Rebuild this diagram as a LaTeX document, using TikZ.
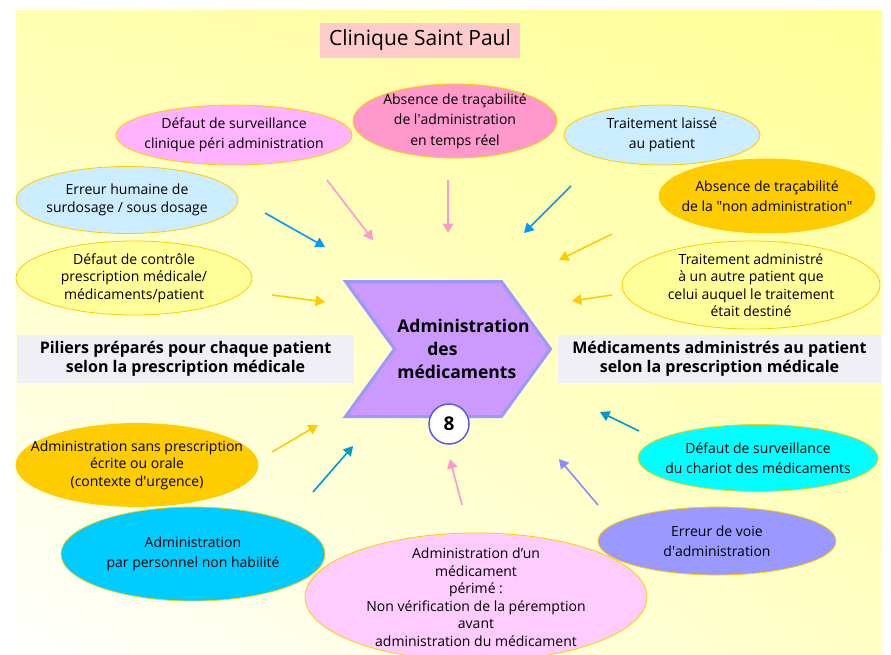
\documentclass[tikz,border=0pt]{standalone}
\usepackage{fontspec}
\setmainfont{Open Sans}
\usetikzlibrary{arrows,shapes.geometric,shapes.symbols,shadings}
\definecolor{bgA}{HTML}{FFFFB0}
\definecolor{bgB}{HTML}{FFFF99}
\definecolor{bgC}{HTML}{FFFFC4}
\definecolor{titlepink}{HTML}{FFCCCC}
\definecolor{pinkA}{HTML}{FFB3FF}
\definecolor{pinkB}{HTML}{FF99CC}
\definecolor{pinkC}{HTML}{FFCCFF}
\definecolor{bluepale}{HTML}{CCECFF}
\definecolor{goldfill}{HTML}{FFCC00}
\definecolor{yellowpale}{HTML}{FFFF99}
\definecolor{cyanA}{HTML}{00CCFF}
\definecolor{cyanB}{HTML}{00FFFF}
\definecolor{periw}{HTML}{9999FF}
\definecolor{greyback}{HTML}{EFEFF5}
\definecolor{chevfill}{HTML}{CC99FF}
\definecolor{chevline}{HTML}{9999FF}
\definecolor{circline}{HTML}{5B5BE8}
\definecolor{arrpink}{HTML}{FF99CC}
\definecolor{arrblue}{HTML}{0099FF}
\definecolor{arrgold}{HTML}{FFCC00}
\definecolor{arrteal}{HTML}{0099CC}
\definecolor{arrperi}{HTML}{8C8CFF}

\begin{document}
\begin{tikzpicture}[x = 1pt, y = -1pt, cause/.style = {ellipse, draw = goldfill, line width = 0.8pt, inner sep = 0pt}, txt/.style = {align = center, font = \fontsize{14}{17.5}\selectfont}, txtw/.style = {align = center, font = \fontsize{14}{20.5}\selectfont}, greybox/.style = {rectangle, fill = greyback, align = center, font = \bfseries\fontsize{16}{19}\selectfont}]

	\useasboundingbox (0, 0) rectangle (891, 655);
	\shade[upper left = bgA, upper right = bgB, lower left = white, lower right = bgC] (16, 11) rectangle (882, 655);

	\node (titre) at (420, 40.5) [fill = titlepink, minimum width = 200, minimum height = 35, font = \fontsize{21}{21}\selectfont] {Clinique Saint Paul};

	\node (surv)    at (234, 135) [cause, fill = pinkA, minimum width = 236, minimum height = 60, label = {[txtw]center:{Défaut de surveillance\\clinique péri administration}}] {};
	\node (tracR)   at (455, 121) [cause, fill = pinkB, minimum width = 204, minimum height = 74, label = {[txtw]center:{Absence de traçabilité\\de l\textquotesingle administration\\en temps réel}}] {};
	\node (laisse)  at (662, 135) [cause, fill = bluepale, minimum width = 196, minimum height = 60, label = {[txtw]center:{Traitement laissé\\au patient}}] {};
	\node (dosage)  at (127, 200) [cause, fill = bluepale, minimum width = 222, minimum height = 67, label = {[txt]center:{Erreur humaine de\\surdosage / sous dosage}}] {};
	\node (tracN)   at (767, 196) [cause, fill = goldfill, minimum width = 216, minimum height = 74, label = {[txtw]center:{Absence de traçabilité\\de la \textquotedbl non administration\textquotedbl}}] {};
	\node (ctrl)    at (134, 278) [cause, fill = yellowpale, minimum width = 236, minimum height = 74, label = {[txt]center:{Défaut de contrôle\\prescription médicale/\\médicaments/patient}}] {};
	\node (autre)   at (751, 285) [cause, fill = yellowpale, minimum width = 258, minimum height = 88, label = {[txt]center:{Traitement administré\\à un autre patient que\\celui auquel le traitement\\était destiné}}] {};
	\node (urgence) at (137, 465) [cause, fill = goldfill, minimum width = 242, minimum height = 83, label = {[txt]center:{Administration sans prescription\\écrite ou orale\\(contexte d\textquotesingle urgence)}}] {};
	\node (habil)   at (193, 554) [cause, fill = cyanA, minimum width = 264, minimum height = 94, label = {[txtw]center:{Administration\\par personnel non habilité}}] {};
	\node (perime)  at (476, 597) [cause, fill = pinkC, minimum width = 342, minimum height = 128, label = {[txt]center:{Administration d’un\\médicament\\périmé :\\Non vérification de la péremption\\avant\\administration du médicament}}] {};
	\node (chariot) at (758, 458) [cause, fill = cyanB, minimum width = 240, minimum height = 67, label = {[txtw]center:{Défaut de surveillance\\du chariot des médicaments}}] {};
	\node (voie)    at (717, 541) [cause, fill = periw, minimum width = 238, minimum height = 68, label = {[txtw]center:{Erreur de voie\\d\textquotesingle administration}}] {};

	\node (avant) at (185.5, 359) [greybox, minimum width = 337, minimum height = 48] {Piliers préparés pour chaque patient\\selon la prescription médicale};
	\node (apres) at (719.5, 359) [greybox, minimum width = 323, minimum height = 48] {Médicaments administrés au patient\\selon la prescription médicale};

	\node (admin) at (448, 349) [signal, signal from = west, signal to = east, signal pointer angle = 108, fill = chevfill, draw = chevline, line width = 3pt, minimum width = 205, minimum height = 135, inner sep = 0pt, label = {[align = left, xshift = 15.5pt, font = \bfseries\fontsize{17.5}{23}\selectfont]center:{Administration\\\hspace*{30pt}des\\médicaments}}] {};
	\node (huit) at (449, 424) [circle, draw = circline, line width = 1.5pt, fill = white, minimum size = 40, inner sep = 0pt, font = \bfseries\fontsize{19}{19}\selectfont] {8};

	\coordinate (survA)    at (327, 180); \coordinate (survB)    at (373, 240);
	\coordinate (tracRA)   at (448, 180); \coordinate (tracRB)   at (448, 233);
	\coordinate (dosageA)  at (265, 213); \coordinate (dosageB)  at (325, 247);
	\coordinate (ctrlA)    at (272, 295); \coordinate (ctrlB)    at (325, 302);
	\coordinate (laisseA)  at (571, 186); \coordinate (laisseB)  at (524, 233);
	\coordinate (tracNA)   at (612, 234); \coordinate (tracNB)   at (559, 260);
	\coordinate (autreA)   at (612, 295); \coordinate (autreB)   at (572, 301);
	\coordinate (urgenceA) at (272, 452); \coordinate (urgenceB) at (318, 425);
	\coordinate (habilA)   at (313, 492); \coordinate (habilB)   at (353, 446);
	\coordinate (perimeA)  at (462, 505); \coordinate (perimeB)  at (450, 459);
	\coordinate (voieA)    at (598, 505); \coordinate (voieB)    at (559, 459);
	\coordinate (chariotA) at (639, 431); \coordinate (chariotB) at (600, 412);

	\foreach \from/\to/\col in {survA/survB/arrpink, tracRA/tracRB/arrpink, dosageA/dosageB/arrblue, ctrlA/ctrlB/arrgold,
	laisseA/laisseB/arrblue, tracNA/tracNB/arrgold, autreA/autreB/arrgold, urgenceA/urgenceB/arrgold,
	habilA/habilB/arrteal, perimeA/perimeB/arrpink, voieA/voieB/arrperi, chariotA/chariotB/arrteal}
		\path (\from) edge [-triangle 60, color = \col, line width = 1.6pt] (\to);

\end{tikzpicture}
\end{document}
